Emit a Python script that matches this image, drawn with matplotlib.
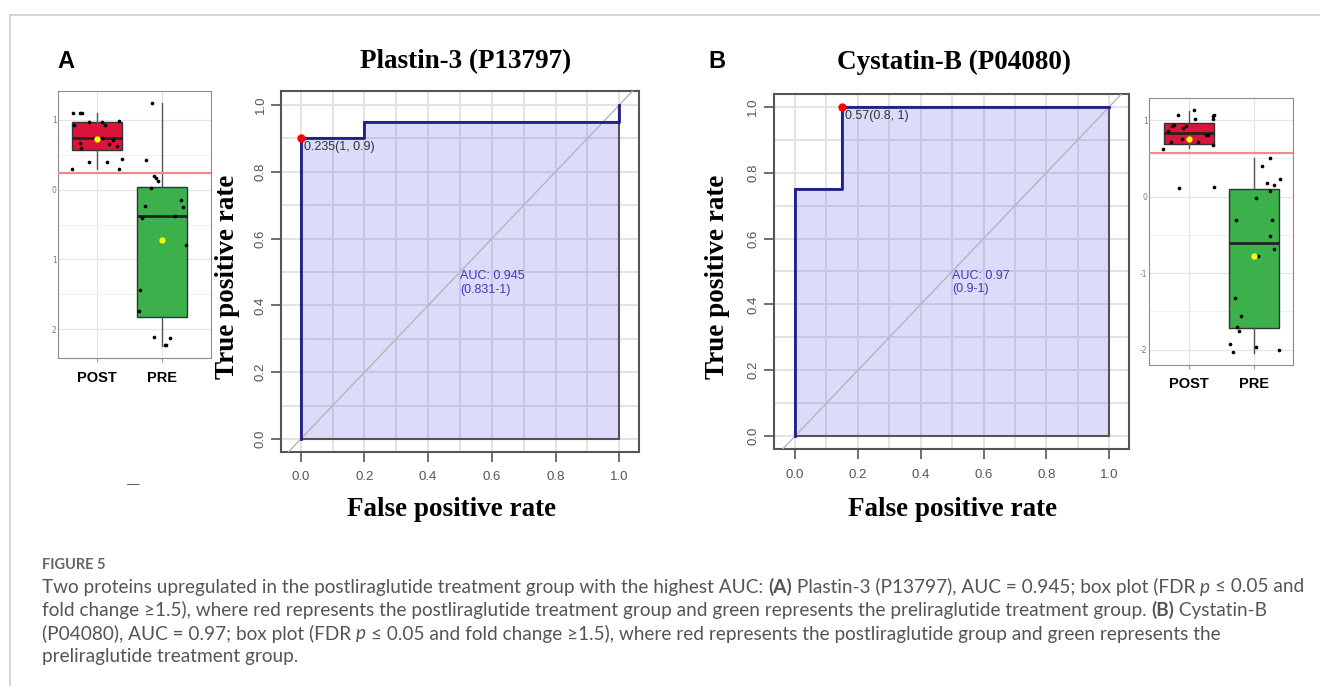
import matplotlib
matplotlib.use("Agg")
import matplotlib.pyplot as plt
import numpy as np
from matplotlib.lines import Line2D
from matplotlib.ticker import MultipleLocator, FormatStrFormatter
from matplotlib.font_manager import FontProperties

W, H = 1320, 686

# ROC curves (false positive rate vs true positive rate)
roc_a_fpr = [0.0, 0.0, 0.2, 0.2, 1.0, 1.0]
roc_a_tpr = [0.0, 0.9, 0.9, 0.95, 0.95, 1.0]
roc_b_fpr = [0.0, 0.0, 0.15, 0.15, 1.0]
roc_b_tpr = [0.0, 0.75, 0.75, 1.0, 1.0]

thr_a = (0.0, 0.9, "0.235(1, 0.9)")
thr_b = (0.15, 1.0, "0.57(0.8, 1)")
auc_a = "AUC: 0.945\n(0.831-1)"
auc_b = "AUC: 0.97\n(0.9-1)"

groups = ["POST", "PRE"]

# box statistics: q1, median, q3, whisker low, whisker high, mean
box_a_post = [0.56, 0.74, 0.96, 0.29, 1.10, 0.73]
box_a_pre = [-1.83, -0.38, 0.03, -2.24, 1.24, -0.72]
box_b_post = [0.69, 0.83, 0.96, 0.64, 1.12, 0.76]
box_b_pre = [-1.72, -0.60, 0.10, -2.04, 0.50, -0.77]

cutoff_a = 0.24
cutoff_b = 0.57

# jittered samples: horizontal offset from the group centre, value
a_post_dx = [-0.37, -0.26, -0.23, -0.36, -0.12, 0.07, 0.12, 0.34, 0.07, -0.26,
             -0.24, 0.18, 0.24, 0.31, -0.13, 0.15, 0.39, -0.39, 0.34]
a_post_y = [1.09, 1.10, 1.09, 0.92, 0.96, 0.96, 0.92, 0.98, 0.74, 0.67,
            0.60, 0.65, 0.71, 0.63, 0.40, 0.40, 0.44, 0.30, 0.29]
a_pre_dx = [-0.16, -0.25, -0.12, -0.09, -0.07, -0.17, -0.27, -0.31, 0.20, 0.29,
            0.32, 0.36, -0.34, -0.36, -0.13, 0.04, 0.06, 0.12]
a_pre_y = [1.24, 0.42, 0.19, 0.16, 0.12, 0.02, -0.23, -0.40, -0.38, -0.15,
           -0.25, -0.80, -1.44, -1.74, -2.11, -2.22, -2.22, -2.12]

b_post_dx = [-0.41, -0.33, -0.26, -0.24, -0.18, -0.28, -0.10, -0.05, -0.11, 0.07,
             0.09, 0.13, 0.26, 0.29, 0.36, 0.38, 0.36, 0.37, -0.16, 0.38]
b_post_y = [0.62, 0.86, 0.93, 0.94, 1.07, 0.71, 0.90, 0.93, 0.75, 1.13,
            1.02, 0.71, 0.81, 0.80, 1.06, 1.07, 1.02, 0.67, 0.11, 0.13]
b_pre_dx = [0.25, 0.12, 0.40, 0.20, 0.31, 0.25, 0.03, -0.28, 0.28, 0.24,
            0.31, 0.06, -0.30, -0.20, -0.27, -0.24, -0.37, -0.32, 0.03, 0.39]
b_pre_y = [0.51, 0.40, 0.23, 0.18, 0.15, 0.07, -0.02, -0.30, -0.30, -0.51,
           -0.69, -0.78, -1.33, -1.56, -1.70, -1.75, -1.93, -2.03, -1.96, -2.01]

SERIF = "Liberation Serif"
SANS = "Liberation Sans"
CAPTION_FONT = ["Lato", "DejaVu Sans"]


def px_rect(x0, y0, x1, y1):
    return [x0 / W, 1 - y1 / H, (x1 - x0) / W, (y1 - y0) / H]


def draw_roc(ax, fpr, tpr, thr, auc_text, xlim, ylim, xpad, ypad):
    ax.set_xlim(*xlim)
    ax.set_ylim(*ylim)
    for axis in (ax.xaxis, ax.yaxis):
        axis.set_major_locator(MultipleLocator(0.2))
        axis.set_minor_locator(MultipleLocator(0.1))
        axis.set_major_formatter(FormatStrFormatter("%.1f"))
    ax.set_xticks(np.arange(0, 1.01, 0.2))
    ax.set_yticks(np.arange(0, 1.01, 0.2))
    ax.grid(True, which="both", color="#e4e4e4", lw=1.4)
    ax.set_axisbelow(True)

    ax.fill(list(fpr) + [1.0], list(tpr) + [0.0], facecolor=(0.25, 0.25, 0.9, 0.18),
            edgecolor="#555555", lw=1.5, zorder=2)
    ax.axline((0, 0), (1, 1), color="#b5b5b5", lw=1, zorder=3)
    ax.plot(fpr, tpr, color="#20208c", lw=2, zorder=4)

    tx, ty, tlabel = thr
    ax.plot([tx], [ty], "o", color="red", ms=5, zorder=5)
    ax.annotate(tlabel, (tx, ty), xytext=(3, -9), textcoords="offset pixels",
                ha="left", va="center", fontsize=9, color="#333333", family=SANS, zorder=6)
    ax.text(0.5, 0.505, auc_text, ha="left", va="top", fontsize=9, color="#3c3cb4",
            family=SANS, linespacing=1.15, zorder=6)

    for sp in ax.spines.values():
        sp.set_color("#555555")
        sp.set_linewidth(1.5)
    ax.tick_params(which="major", direction="out", length=7, width=1.2, color="#555555",
                   labelcolor="#555555", labelsize=9.5)
    ax.tick_params(axis="x", pad=xpad)
    ax.tick_params(axis="y", pad=ypad, labelrotation=90)
    ax.tick_params(which="minor", length=0)
    for lab in ax.get_xticklabels() + ax.get_yticklabels():
        lab.set_family(SANS)
    for lab in ax.get_yticklabels():
        lab.set_va("center")


def draw_box(ax, post_stats, pre_stats, post_dx, post_y, pre_dx, pre_y, cutoff,
             xlim, ylim, yticklabels):
    stats = []
    for st in (post_stats, pre_stats):
        q1, med, q3, lo, hi, mean = st
        stats.append(dict(q1=q1, med=med, q3=q3, whislo=lo, whishi=hi, mean=mean, fliers=[]))
    bp = ax.bxp(stats, positions=[1, 2], widths=0.77, patch_artist=True, showcaps=False,
                showmeans=True, showfliers=False,
                boxprops=dict(edgecolor="#333333", lw=1),
                whiskerprops=dict(color="#555555", lw=1),
                medianprops=dict(color="#222222", lw=2),
                meanprops=dict(marker="o", markerfacecolor="yellow", markeredgecolor="none",
                               markersize=4.5))
    for patch, col in zip(bp["boxes"], ["#dc143c", "#3cb04a"]):
        patch.set_facecolor(col)
    for line in bp["means"]:
        line.set_zorder(6)

    ax.scatter(1 + np.array(post_dx), post_y, s=7, color="black", zorder=5, lw=0)
    ax.scatter(2 + np.array(pre_dx), pre_y, s=7, color="black", zorder=5, lw=0)
    ax.axhline(cutoff, color="#f08a8a", lw=1.6, zorder=4)

    ax.set_xlim(*xlim)
    ax.set_ylim(*ylim)
    ax.set_yticks([-2, -1, 0, 1])
    ax.set_yticklabels(yticklabels)
    ax.set_yticks([-1.5, -0.5, 0.5], minor=True)
    ax.set_xticks([1, 2])
    ax.set_xticklabels(groups, fontsize=10.5, fontweight="bold", family=SANS)
    ax.grid(True, which="major", color="#e6e6e6", lw=0.9)
    ax.grid(True, which="minor", axis="y", color="#f0f0f0", lw=0.7)
    ax.set_axisbelow(True)
    ax.tick_params(axis="y", which="both", length=0, pad=1, labelsize=5.5, labelcolor="#7a7a7a")
    ax.tick_params(axis="x", length=3, color="#999999", pad=6)
    for sp in ax.spines.values():
        sp.set_color("#8c8c8c")
        sp.set_linewidth(0.8)


fig = plt.figure(figsize=(13.2, 6.86), dpi=100)

# outer frame of the figure block
fig.add_artist(Line2D([10 / W, 10 / W], [0, 1 - 15 / H], transform=fig.transFigure,
                      color="#cfcfcf", lw=1.2))
fig.add_artist(Line2D([10 / W, 1], [1 - 15 / H, 1 - 15 / H], transform=fig.transFigure,
                      color="#cfcfcf", lw=1.2))

ax_box_a = fig.add_axes(px_rect(58, 91, 211, 358))
draw_box(ax_box_a, box_a_post, box_a_pre, a_post_dx, a_post_y, a_pre_dx, a_pre_y, cutoff_a,
         (0.4, 2.75), (-2.41, 1.41), ["2", "1", "0", "1"])

ax_roc_a = fig.add_axes(px_rect(280.7, 91, 639.3, 451.7))
draw_roc(ax_roc_a, roc_a_fpr, roc_a_tpr, thr_a, auc_a, (-0.063, 1.063), (-0.038, 1.042), 7, 3)

ax_roc_b = fig.add_axes(px_rect(774, 94, 1129.3, 449.3))
draw_roc(ax_roc_b, roc_b_fpr, roc_b_tpr, thr_b, auc_b, (-0.067, 1.064), (-0.04, 1.039), 7, 3.5)

ax_box_b = fig.add_axes(px_rect(1149, 98, 1293, 365))
draw_box(ax_box_b, box_b_post, box_b_pre, b_post_dx, b_post_y, b_pre_dx, b_pre_y, cutoff_b,
         (0.38, 2.6), (-2.2, 1.29), ["-2", "-1", "0", "1"])


def ftext(x, y, s, **kw):
    return fig.text(x / W, 1 - y / H, s, **kw)


# panel letters and titles
ftext(57, 62, "A", fontsize=17, fontweight="bold", family=SANS, ha="left", va="center")
ftext(708, 62, "B", fontsize=17, fontweight="bold", family=SANS, ha="left", va="center")
ftext(466, 62, "Plastin-3 (P13797)", fontsize=19.5, fontweight="bold", family=SERIF,
      ha="center", va="center")
ftext(954, 62, "Cystatin-B (P04080)", fontsize=19.5, fontweight="bold", family=SERIF,
      ha="center", va="center")

# axis titles
for x_lab, x_ylab in [(452, 227), (953, 717)]:
    ftext(x_lab, 510, "False positive rate", fontsize=19.5, fontweight="bold", family=SERIF,
          ha="center", va="center")
    ftext(x_ylab, 277, "True positive rate", fontsize=19.5, fontweight="bold", family=SERIF,
          ha="center", va="center", rotation=90)

ftext(133, 485, "\u2014", fontsize=9, color="#444444", family=SANS, ha="center", va="center")

# caption
renderer = fig.canvas.get_renderer()


def advance(s, fp):
    w1 = renderer.get_text_width_height_descent("|" + s + "|", fp, ismath=False)[0]
    w0 = renderer.get_text_width_height_descent("||", fp, ismath=False)[0]
    return w1 - w0


def rich_line(x, y, parts, size, color):
    for s, style in parts:
        weight = "bold" if style == "b" else "normal"
        slant = "italic" if style == "i" else "normal"
        fp = FontProperties(family=CAPTION_FONT, size=size, weight=weight, style=slant)
        ftext(x, y, s, fontproperties=fp, color=color, ha="left", va="center")
        x += advance(s, fp)


ftext(42, 565, "FIGURE 5", fontsize=10.5, fontweight="bold", family=CAPTION_FONT,
      color="#666666", ha="left", va="center")

caption_lines = [
    [("Two proteins upregulated in the postliraglutide treatment group with the highest AUC: ", "n"),
     ("(A)", "b"), (" Plastin-3 (P13797), AUC = 0.945; box plot (FDR ", "n"), ("p", "i"),
     (" \u2264 0.05 and", "n")],
    [("fold change \u22651.5), where red represents the postliraglutide treatment group and green "
      "represents the preliraglutide treatment group. ", "n"), ("(B)", "b"), (" Cystatin-B", "n")],
    [("(P04080), AUC = 0.97; box plot (FDR ", "n"), ("p", "i"),
     (" \u2264 0.05 and fold change \u22651.5), where red represents the postliraglutide group and "
      "green represents the", "n")],
    [("preliraglutide treatment group.", "n")],
]
for i, parts in enumerate(caption_lines):
    rich_line(42, 587 + i * 23.3, parts, 13.7, "#555555")

fig.savefig("out.png", dpi=100)
